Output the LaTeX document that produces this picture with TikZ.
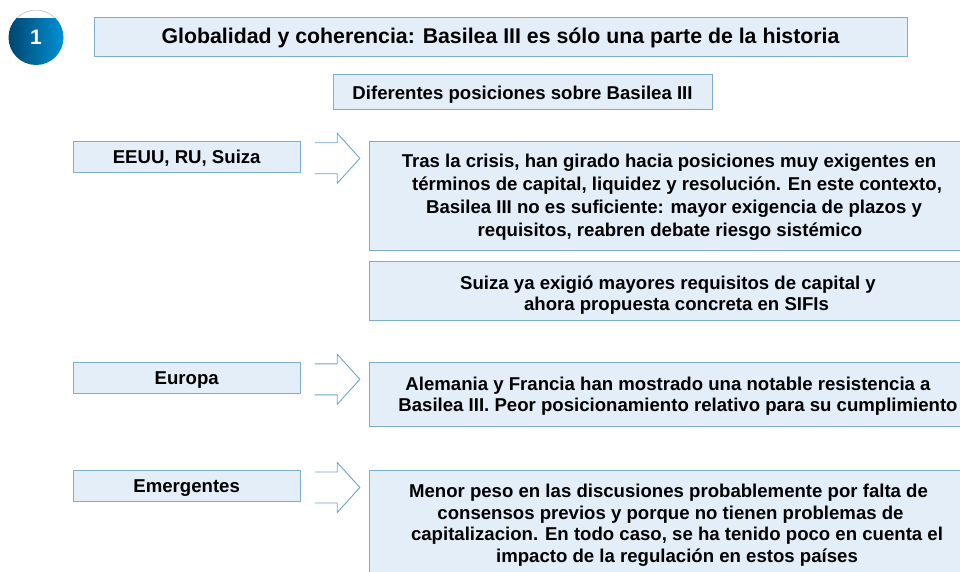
\documentclass[tikz,border=0pt]{standalone}
\usepackage{fontspec}
\setmainfont{Liberation Sans}
\usetikzlibrary{calc}
\definecolor{boxfill}{HTML}{E3EEF9}
\definecolor{boxline}{HTML}{7FAECB}
\definecolor{arrline}{HTML}{6FA6C6}
\definecolor{cdark}{HTML}{00456E}
\definecolor{clight}{HTML}{0092D6}
\begin{document}
\begin{tikzpicture}[x=1pt,y=-1pt,
  bx/.style={draw=boxline, fill=boxfill, line width=1pt, inner sep=0pt},
  lbl/.style={font=\fontsize{18.6}{22}\selectfont\bfseries, text height=17.5pt, text depth=4pt},
  txt/.style={align=center, inner sep=0pt, font=\fontsize{18.6}{21.5}\selectfont\bfseries},
  arr/.style={draw=arrline, line width=0.9pt, line join=miter}]
\useasboundingbox (0,0) rectangle (960,572);
\clip (0,0) rectangle (960,572);

% number badge
\node[circle, minimum size=55pt, inner sep=0pt, left color=cdark, right color=clight,
      text=white, font=\fontsize{21}{22}\selectfont\bfseries] (num) at (36,37.5) {1};
\begin{scope}
  \clip (num.center) circle (27.5pt);
  \fill[white] (0,0) rectangle (80,17.8);
\end{scope}
\begin{scope}
  \clip (0,0) rectangle (80,17.8);
  \draw[black!18, line width=0.6pt] (num.center) circle (27.2pt);
\end{scope}

% title and subtitle
\node[bx, minimum width=813pt, minimum height=39pt, font=\fontsize{21.3}{25}\selectfont\bfseries]
  (title) at (500.5,37.5) {Globalidad y coherencia: Basilea III es sólo una parte de la historia};
\node[bx, minimum width=379pt, minimum height=35pt, lbl]
  (sub) at (522.5,92.5) {Diferentes posiciones sobre Basilea III};

% left labels
\node[bx, minimum width=226.7pt, minimum height=31pt, lbl] (eeuu) at (186.7,156.8) {EEUU, RU, Suiza};
\node[bx, minimum width=226.7pt, minimum height=31pt, lbl] (europa) at (186.7,377.8) {Europa};
\node[bx, minimum width=226.7pt, minimum height=31pt, lbl] (emerg) at (186.7,486) {Emergentes};

% right boxes
\node[bx, minimum width=605.5pt, minimum height=108.3pt] (b1) at (672.25,195.85) {};
\node[bx, minimum width=605.5pt, minimum height=59pt] (b2) at (672.25,290.5) {};
\node[bx, minimum width=605.5pt, minimum height=64pt] (b3) at (672.25,394.7) {};
\node[bx, minimum width=605.5pt, minimum height=114.7pt] (b4) at (672.25,527.65) {};

\node[txt, font=\fontsize{18.6}{23}\selectfont\bfseries] (t1) at (669,197)
  {Tras la crisis, han girado hacia posiciones muy exigentes en\\
   \hspace*{16pt}términos de capital, liquidez y resolución. En este contexto,\\
   \hspace*{10pt}Basilea III no es suficiente: mayor exigencia de plazos y\\
   \hspace*{2pt}requisitos, reabren debate riesgo sistémico};
\node[txt] (t2) at (668,295)
  {Suiza ya exigió mayores requisitos de capital y\\
   \hspace*{17pt}ahora propuesta concreta en SIFIs};
\node[txt] (t3) at (668,396)
  {Alemania y Francia han mostrado una notable resistencia a\\
   \hspace*{20pt}Basilea III. Peor posicionamiento relativo para su cumplimiento};
\node[txt] (t4) at (668.5,525)
  {Menor peso en las discusiones probablemente por falta de\\
   \hspace*{4pt}consensos previos y porque no tienen problemas de\\
   \hspace*{17pt}capitalizacion. En todo caso, se ha tenido poco en cuenta el\\
   \hspace*{17pt}impacto de la regulación en estos países};

% open arrows
\foreach \n in {eeuu,europa,emerg} {
  \draw[arr] ($(\n.east)+(14,-14)$) -- ++(22.7,0) -- ++(0,-9.5)
    -- ($(\n.east)+(59.3,1.5)$) -- ($(\n.east)+(36.7,26.5)$) -- ++(0,-9.5) -- ++(-22.7,0);
}
\end{tikzpicture}
\end{document}
